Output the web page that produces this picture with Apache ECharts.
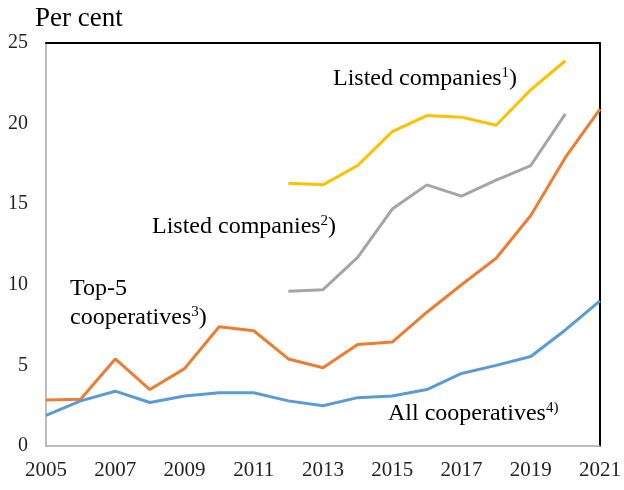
<!DOCTYPE html>
<html>
<head>
<meta charset="utf-8">
<script src="https://cdn.jsdelivr.net/npm/echarts@6/dist/echarts.min.js"></script>
<style>
  html, body { margin: 0; padding: 0; background: #fff; }
  #main { width: 624px; height: 490px; }
</style>
</head>
<body>
<div id="main"></div>
<script>
// years on the x axis
var aYears = ['2005', '2006', '2007', '2008', '2009', '2010', '2011', '2012', '2013',
  '2014', '2015', '2016', '2017', '2018', '2019', '2020', '2021'];
// listed companies 1)
var aListed1 = [null, null, null, null, null, null, null, 16.3, 16.2, 17.4, 19.5, 20.5, 20.4, 19.9, 22.1, 23.9, null];
// listed companies 2)
var aListed2 = [null, null, null, null, null, null, null, 9.6, 9.7, 11.7, 14.7, 16.2, 15.5, 16.5, 17.4, 20.6, null];
// top-5 cooperatives 3)
var aTop5 = [2.85, 2.9, 5.4, 3.5, 4.8, 7.4, 7.15, 5.4, 4.85, 6.3, 6.45, 8.3, 10.0, 11.65, 14.3, 17.9, 20.9];
// all cooperatives 4)
var aAll = [1.9, 2.8, 3.4, 2.7, 3.1, 3.3, 3.3, 2.8, 2.5, 3.0, 3.1, 3.5, 4.5, 5.0, 5.55, 7.2, 9.0];

var sFont = "'Liberation Serif', 'Times New Roman', serif";

var oChart = echarts.init(document.getElementById('main'));

function makeLine(name, data, color) {
    return {
        name: name,
        type: 'line',
        data: data,
        symbol: 'none',
        smooth: false,
        connectNulls: false,
        lineStyle: { color: color, width: 3 },
        itemStyle: { color: color },
        animation: false
    };
}

// text labels in the plot
function makeText(x, y, text, rich) {
    return {
        type: 'text',
        left: x,
        top: y,
        style: {
            text: text,
            font: '24px ' + sFont,
            fill: '#000',
            rich: rich
        }
    };
}

var oSup = {
    n: { fontSize: 24, fontFamily: sFont, color: '#000', lineHeight: 26 },
    big: { fontSize: 27, fontFamily: sFont, color: '#000', lineHeight: 30 },
    s: { fontSize: 15, fontFamily: sFont, color: '#000', lineHeight: 26, verticalAlign: 'top', padding: [0, 0, 8, 0] }
};

var chartopt = {
    backgroundColor: '#fff',
    animation: false,
    grid: {
        left: 46,
        right: 20,
        top: 43,
        bottom: 44
    },
    xAxis: [
        {
            type: 'category',
            boundaryGap: false,
            data: aYears,
            axisLine: { lineStyle: { color: '#a6a6a6', width: 1.5 } },
            axisTick: { show: false },
            axisLabel: {
                interval: 1,
                color: '#222',
                fontSize: 21,
                fontFamily: sFont,
                margin: 14
            },
            splitLine: { show: false }
        },
        {
            type: 'category',
            position: 'top',
            boundaryGap: false,
            data: aYears,
            axisLine: { onZero: false, lineStyle: { color: '#000', width: 2 } },
            axisTick: { show: false },
            axisLabel: { show: false },
            splitLine: { show: false }
        }
    ],
    yAxis: [
        {
            type: 'value',
            min: 0,
            max: 25,
            interval: 5,
            axisLine: { show: true, lineStyle: { color: '#a6a6a6', width: 1.5 } },
            axisTick: { show: false },
            axisLabel: {
                color: '#222',
                fontSize: 20,
                fontFamily: sFont,
                margin: 18
            },
            splitLine: { show: false }
        },
        {
            type: 'value',
            position: 'right',
            min: 0,
            max: 25,
            interval: 5,
            axisLine: { show: true, onZero: false, lineStyle: { color: '#000', width: 2 } },
            axisTick: { show: false },
            axisLabel: { show: false },
            splitLine: { show: false }
        }
    ],
    series: [
        makeLine('Listed companies 1)', aListed1, '#ffc000'),
        makeLine('Listed companies 2)', aListed2, '#a5a5a5'),
        makeLine('Top-5 cooperatives 3)', aTop5, '#ed7d31'),
        makeLine('All cooperatives 4)', aAll, '#5b9bd5')
    ],
    graphic: [
        makeText(35, 5, '{big|Per cent}', oSup),
        makeText(333, 66, '{n|Listed companies}{s|1}{n|)}', oSup),
        makeText(152, 214, '{n|Listed companies}{s|2}{n|)}', oSup),
        makeText(70, 277, '{n|Top-5}', oSup),
        makeText(70, 305, '{n|cooperatives}{s|3}{n|)}', oSup),
        makeText(388, 401, '{n|All cooperatives}{s|4)}', oSup)
    ]
};
oChart.setOption(chartopt);
</script>
</body>
</html>
